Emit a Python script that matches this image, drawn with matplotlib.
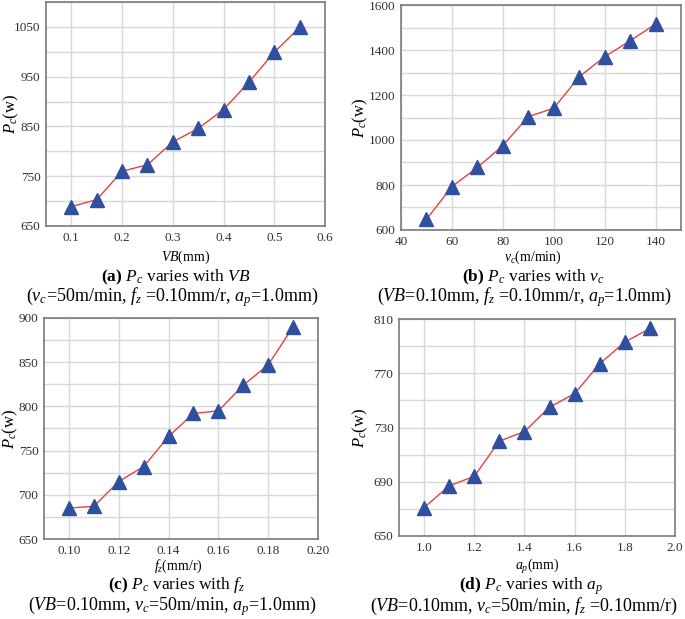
import matplotlib
matplotlib.use("Agg")
import matplotlib.pyplot as plt
from matplotlib.ticker import MultipleLocator

plt.rcParams['font.family'] = 'serif'
plt.rcParams['font.serif'] = ['Liberation Serif', 'DejaVu Serif']
plt.rcParams['mathtext.fontset'] = 'custom'
plt.rcParams['mathtext.rm'] = 'Liberation Serif'
plt.rcParams['mathtext.it'] = 'Liberation Serif:italic'
plt.rcParams['mathtext.bf'] = 'Liberation Serif:bold'

# (a) Pc vs VB
vb = [0.1, 0.15, 0.2, 0.25, 0.3, 0.35, 0.4, 0.45, 0.5, 0.55]
pc_vb = [689, 703, 760, 773, 819, 846, 884, 939, 999, 1049]

# (b) Pc vs vc
vc = [50, 60, 70, 80, 90, 100, 110, 120, 130, 140]
pc_vc = [647, 793, 878, 975, 1104, 1141, 1281, 1370, 1441, 1515]

# (c) Pc vs fz
fz = [0.10, 0.11, 0.12, 0.13, 0.14, 0.15, 0.16, 0.17, 0.18, 0.19]
pc_fz = [685, 687, 715, 732, 766, 792, 795, 824, 847, 890]

# (d) Pc vs ap
ap = [1.0, 1.1, 1.2, 1.3, 1.4, 1.5, 1.6, 1.7, 1.8, 1.9]
pc_ap = [671, 687, 694, 720, 727, 745, 755, 777, 793, 803]

W, H = 685, 619
fig = plt.figure(figsize=(W / 100, H / 100), dpi=100)


def make_axes(l, t, r, b):
    return fig.add_axes([l / W, 1 - b / H, (r - l) / W, (b - t) / H])


def style(ax, x, y, xlim, ylim, xmaj, ymaj, yoff, ymin, xfmt, ylabel_x):
    ax.plot(x, y, color='#e8413e', lw=1.0, zorder=3)
    ax.plot(x, y, ls='none', marker='^', ms=9.5, color='#2f4f9f', zorder=4)
    ax.set_xlim(*xlim)
    ax.set_ylim(*ylim)
    ax.xaxis.set_major_locator(MultipleLocator(xmaj))
    ax.yaxis.set_major_locator(MultipleLocator(ymaj, offset=yoff))
    ax.yaxis.set_minor_locator(MultipleLocator(ymin, offset=yoff % ymin))
    ax.xaxis.set_major_formatter(plt.FormatStrFormatter(xfmt))
    ax.grid(True, which='major', color='#d8d8d8', lw=1.0)
    ax.grid(True, which='minor', axis='y', color='#d8d8d8', lw=1.0)
    ax.set_axisbelow(True)
    ax.tick_params(which='both', length=0, labelsize=9.5, colors='#333333', pad=4)
    for s in ax.spines.values():
        s.set_color('#7a7a7a')
        s.set_linewidth(1.2)
    ax.set_ylabel(r'$P_c$(w)', fontsize=12)
    ax.yaxis.set_label_coords(ylabel_x, 0.5)


ax_a = make_axes(46, 2, 325, 226)
style(ax_a, vb, pc_vb, (0.05, 0.6), (650, 1100), 0.1, 100, 50, 50, '%.1f', -0.09)
ax_b = make_axes(401, 5, 681, 230)
style(ax_b, vc, pc_vc, (40, 150), (600, 1600), 20, 200, 0, 100, '%d', -0.11)
ax_c = make_axes(44, 318, 318, 539)
style(ax_c, fz, pc_fz, (0.09, 0.20), (650, 900), 0.02, 50, 0, 25, '%.2f', -0.088)
ax_d = make_axes(399, 319, 675, 536)
style(ax_d, ap, pc_ap, (0.9, 2.0), (650, 810), 0.2, 40, 10, 20, '%.1f', -0.105)


def caption(x, y, xlabel, line1, line2):
    fig.text(x[0] / W, 1 - y[0] / H, xlabel, ha='center', va='center', fontsize=10)
    fig.text(x[1] / W, 1 - y[1] / H, line1, ha='center', va='center', fontsize=12.5)
    fig.text(x[2] / W, 1 - y[2] / H, line2, ha='center', va='center', fontsize=13)


caption((186, 176, 172), (257, 277, 297), r'$VB$(mm)',
        r'$\mathbf{(a)}$ $P_c$ varies with $VB$',
        r'($v_c$=50m/min, $f_z$ =0.10mm/r, $a_p$=1.0mm)')
caption((533, 533, 524), (257, 277, 297), r'$v_c$(m/min)',
        r'$\mathbf{(b)}$ $P_c$ varies with $v_c$',
        r'($VB$=0.10mm, $f_z$ =0.10mm/r, $a_p$=1.0mm)')
caption((178, 176, 172), (566, 585, 606), r'$f_z$(mm/r)',
        r'$\mathbf{(c)}$ $P_c$ varies with $f_z$',
        r'($VB$=0.10mm, $v_c$=50m/min, $a_p$=1.0mm)')
caption((537, 531, 524), (566, 586, 606), r'$a_p$(mm)',
        r'$\mathbf{(d)}$ $P_c$ varies with $a_p$',
        r'($VB$=0.10mm, $v_c$=50m/min, $f_z$ =0.10mm/r)')

fig.savefig('out.png', dpi=100, facecolor='white')
